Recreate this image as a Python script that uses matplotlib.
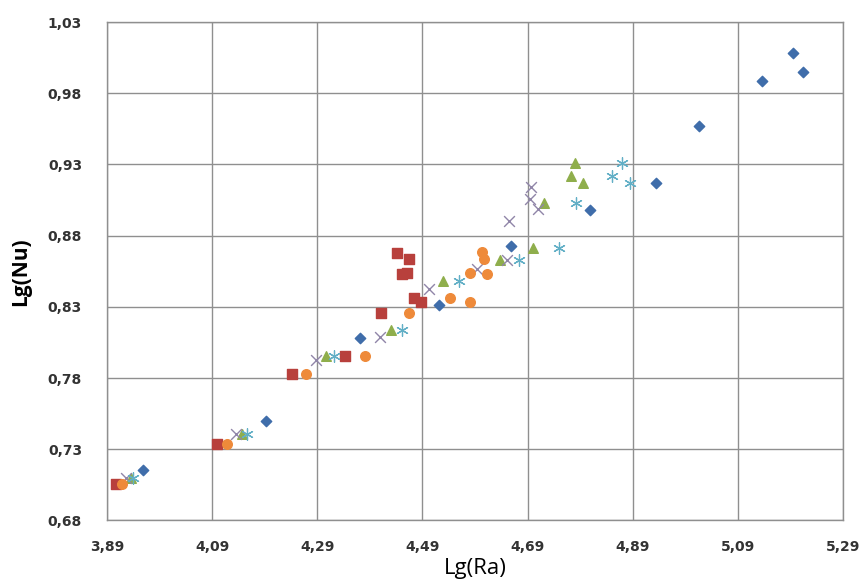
import numpy as np
import matplotlib.pyplot as plt

# series values (Lg(Ra), Lg(Nu))
diamond_x = [3.959, 4.192, 4.372, 4.522, 4.658, 4.809, 4.934, 5.016, 5.136, 5.195, 5.214]
diamond_y = [0.7155, 0.750, 0.8084, 0.8313, 0.873, 0.898, 0.9168, 0.9573, 0.9886, 1.0085, 0.9952]

square_x = [3.908, 4.100, 4.241, 4.342, 4.412, 4.442, 4.465, 4.451, 4.461, 4.473, 4.488]
square_y = [0.7054, 0.7335, 0.783, 0.7955, 0.826, 0.868, 0.8634, 0.853, 0.8536, 0.836, 0.8337]

triangle_x = [3.936, 4.147, 4.307, 4.431, 4.530, 4.637, 4.700, 4.721, 4.772, 4.780, 4.795]
triangle_y = [0.710, 0.741, 0.7955, 0.8138, 0.8482, 0.863, 0.871, 0.9028, 0.922, 0.9313, 0.9168]

cross_x = [3.927, 4.135, 4.288, 4.409, 4.502, 4.593, 4.651, 4.654, 4.694, 4.697, 4.710]
cross_y = [0.710, 0.7405, 0.7927, 0.809, 0.8424, 0.8564, 0.863, 0.8905, 0.9056, 0.914, 0.8985]

star_x = [3.940, 4.157, 4.321, 4.451, 4.559, 4.673, 4.749, 4.782, 4.850, 4.869, 4.884]
star_y = [0.710, 0.741, 0.7955, 0.8138, 0.8482, 0.863, 0.871, 0.9028, 0.922, 0.9313, 0.9168]

circle_x = [3.919, 4.119, 4.268, 4.381, 4.465, 4.543, 4.581, 4.580, 4.603, 4.607, 4.613]
circle_y = [0.7054, 0.7335, 0.783, 0.7955, 0.826, 0.836, 0.8337, 0.854, 0.8688, 0.8636, 0.853]

xticks = [3.89, 4.09, 4.29, 4.49, 4.69, 4.89, 5.09, 5.29]
yticks = [0.68, 0.73, 0.78, 0.83, 0.88, 0.93, 0.98, 1.03]

fig = plt.figure(figsize=(8.59, 5.87), dpi=100)
ax = fig.add_axes([0.1246, 0.1133, 0.8568, 0.8492])

ax.scatter(diamond_x, diamond_y, marker='D', s=28, color='#3F6DAA', zorder=3)
ax.scatter(square_x, square_y, marker='s', s=48, color='#B8403C', zorder=3)
ax.scatter(triangle_x, triangle_y, marker='^', s=48, color='#8FAE4C', zorder=3)
ax.scatter(cross_x, cross_y, marker='x', s=60, color='#9085A8', linewidths=1.0, zorder=3)
ax.scatter(star_x, star_y, marker=(6, 2, 0), s=70, color='#62AFC6', linewidths=0.9, zorder=3)
ax.scatter(circle_x, circle_y, marker='o', s=48, color='#EE8A3A', zorder=3)

ax.set_xlim(3.89, 5.29)
ax.set_ylim(0.68, 1.03)
ax.set_xticks(xticks)
ax.set_yticks(yticks)
ax.set_xticklabels([f'{v:.2f}'.replace('.', ',') for v in xticks], fontsize=10, fontweight='bold', family='DejaVu Sans')
ax.set_yticklabels([f'{v:.2f}'.replace('.', ',') for v in yticks], fontsize=10, fontweight='bold', family='DejaVu Sans')
ax.tick_params(length=0, pad=14, colors='#333333')
ax.tick_params(axis='y', pad=18)
ax.grid(True, color='#8F8F8F', linewidth=1.0)
ax.set_axisbelow(True)
for sp in ax.spines.values():
    sp.set_color('#8F8F8F')
    sp.set_linewidth(1.0)

ax.set_xlabel('Lg(Ra)', fontsize=16, family='Open Sans', labelpad=3)
ax.set_ylabel('Lg(Nu)', fontsize=15, fontweight='bold', family='Open Sans', labelpad=12)

fig.savefig('out.png', dpi=100)
